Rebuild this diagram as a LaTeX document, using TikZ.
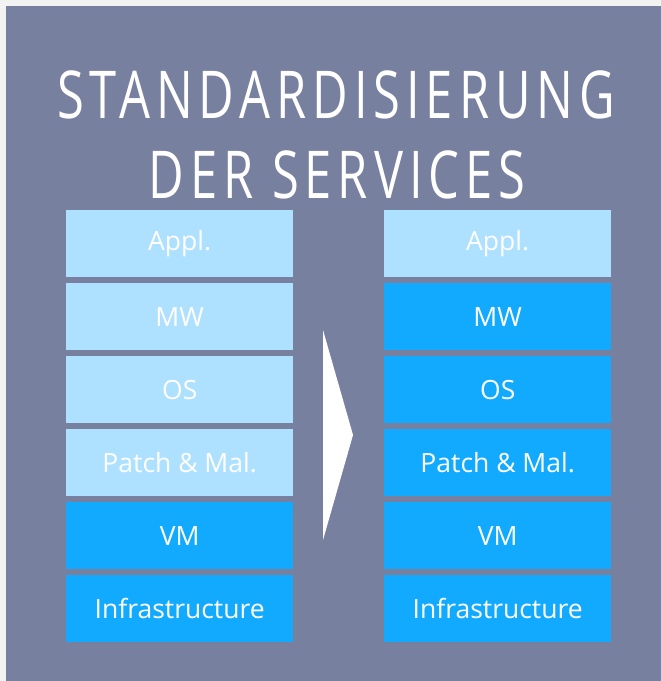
\documentclass[tikz,border=0pt]{standalone}
\usepackage{fontspec}
\setmainfont{Open Sans}
\newfontfamily\headfont[FakeStretch=0.74,LetterSpace=9]{Open Sans}
\usetikzlibrary{positioning}

\definecolor{slate}{RGB}{120,128,160}
\definecolor{paleblue}{RGB}{174,224,255}
\definecolor{brightblue}{RGB}{18,170,255}
\definecolor{margingray}{RGB}{242,242,242}

\tikzset{
  layer/.style={minimum width=227pt, minimum height=67pt, inner sep=0pt,
    text=white, font=\fontsize{26.5}{30}\selectfont},
  custom/.style={layer, fill=paleblue},
  standard/.style={layer, fill=brightblue},
  headline/.style={anchor=base, inner sep=0pt, text=white,
    font=\headfont\fontsize{66}{70}\selectfont},
}

\begin{document}
\begin{tikzpicture}[x=1pt, y=-1pt, node distance=5.6pt]
\fill[margingray] (0,0) rectangle (661,681);
\fill[slate] (6,6) rectangle (661,681);

\node[headline] (head) at (336,118) {STANDARDISIERUNG};
\node[headline] (subhead) at (337,198) {DER SERVICES};

% left stack
\node[custom, anchor=north west] (appl1) at (66,210) {Appl.};
\node[custom, below=of appl1] (mw1) {MW};
\node[custom, below=of mw1] (os1) {OS};
\node[custom, below=of os1] (patch1) {Patch \& Mal.};
\node[standard, below=of patch1] (vm1) {VM};
\node[standard, below=of vm1] (infra1) {Infrastructure};

% right stack
\node[custom, anchor=north west] (appl2) at (384,210) {Appl.};
\node[standard, below=of appl2] (mw2) {MW};
\node[standard, below=of mw2] (os2) {OS};
\node[standard, below=of os2] (patch2) {Patch \& Mal.};
\node[standard, below=of patch2] (vm2) {VM};
\node[standard, below=of vm2] (infra2) {Infrastructure};

% arrow
\fill[white] (323,330) -- (353,435) -- (323,540) -- cycle;
\end{tikzpicture}
\end{document}
